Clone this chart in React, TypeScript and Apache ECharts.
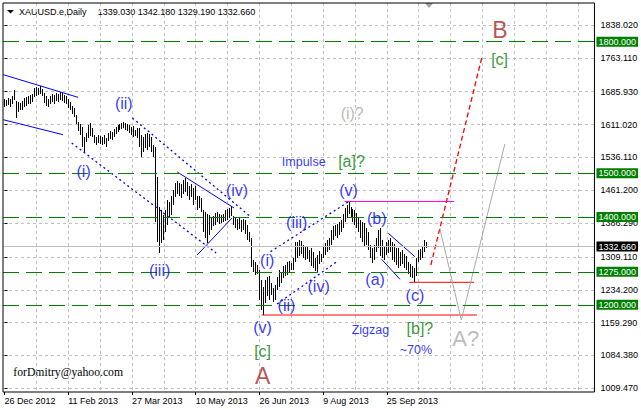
import { useEffect, useRef } from "react";
import * as echarts from "echarts";

// ---- instrument header ----
const symbolName = "XAUUSD.e,Daily";
const lastBar = { open: 1339.03, high: 1342.18, low: 1329.19, close: 1332.66 };

// ---- daily bars (bar index 0 = 26 Dec 2012) ----
const highs = [
  1669, 1667, 1672, 1669, 1676, 1690, 1665, 1662, 1660, 1665,
  1672, 1674, 1676, 1678, 1681, 1694, 1697, 1694, 1699, 1692,
  1683, 1676, 1669, 1676, 1681, 1678, 1683, 1681, 1685, 1683,
  1678, 1676, 1669, 1662, 1653, 1649, 1633, 1617, 1612, 1605,
  1583, 1592, 1610, 1614, 1603, 1587, 1583, 1587, 1585, 1583,
  1587, 1580, 1592, 1596, 1594, 1601, 1605, 1610, 1612, 1614,
  1617, 1614, 1612, 1610, 1605, 1608, 1599, 1603, 1603, 1587,
  1583, 1589, 1592, 1589, 1583, 1564, 1560, 1491, 1423, 1416,
  1405, 1416, 1439, 1434, 1448, 1462, 1478, 1482, 1478, 1475,
  1485, 1489, 1480, 1471, 1475, 1466, 1471, 1448, 1448, 1443,
  1416, 1412, 1407, 1405, 1400, 1402, 1409, 1412, 1407, 1405,
  1407, 1416, 1418, 1421, 1425, 1402, 1398, 1396, 1398, 1393,
  1396, 1393, 1382, 1366, 1352, 1302, 1297, 1291, 1279, 1256,
  1240, 1256, 1263, 1266, 1250, 1238, 1245, 1263, 1279, 1275,
  1288, 1291, 1297, 1300, 1295, 1307, 1343, 1343, 1348, 1345,
  1336, 1334, 1332, 1325, 1329, 1320, 1307, 1313, 1323, 1316,
  1334, 1341, 1348, 1352, 1370, 1380, 1382, 1384, 1389, 1393,
  1407, 1421, 1427, 1434, 1423, 1418, 1416, 1409, 1398, 1393,
  1389, 1386, 1375, 1366, 1336, 1329, 1336, 1352, 1370, 1375,
  1348, 1334, 1343, 1348, 1352, 1343, 1339, 1329, 1329, 1320,
  1325, 1316, 1311, 1297, 1293, 1288, 1284, 1307, 1325, 1327,
  1334, 1348, 1342.18,
];
const lows = [
  1651, 1653, 1656, 1651, 1658, 1667, 1626, 1640, 1644, 1644,
  1651, 1653, 1658, 1658, 1662, 1674, 1676, 1678, 1681, 1676,
  1660, 1653, 1651, 1658, 1662, 1658, 1665, 1662, 1667, 1665,
  1660, 1658, 1649, 1644, 1635, 1628, 1612, 1596, 1587, 1560,
  1548, 1571, 1580, 1585, 1583, 1569, 1564, 1569, 1567, 1564,
  1567, 1560, 1573, 1578, 1576, 1583, 1589, 1594, 1599, 1601,
  1603, 1599, 1596, 1592, 1587, 1583, 1585, 1580, 1560, 1537,
  1548, 1557, 1553, 1560, 1548, 1537, 1389, 1343, 1318, 1341,
  1348, 1366, 1382, 1398, 1405, 1427, 1446, 1453, 1448, 1443,
  1453, 1457, 1448, 1439, 1446, 1427, 1439, 1416, 1421, 1412,
  1366, 1352, 1341, 1359, 1371, 1380, 1382, 1389, 1384, 1386,
  1389, 1391, 1393, 1398, 1402, 1382, 1375, 1371, 1373, 1366,
  1371, 1361, 1348, 1343, 1286, 1275, 1268, 1270, 1211, 1188,
  1177, 1204, 1220, 1211, 1222, 1206, 1211, 1234, 1240, 1250,
  1261, 1266, 1268, 1275, 1279, 1279, 1297, 1307, 1311, 1316,
  1307, 1302, 1304, 1297, 1288, 1284, 1277, 1275, 1293, 1297,
  1307, 1313, 1320, 1325, 1336, 1348, 1357, 1352, 1359, 1366,
  1375, 1389, 1398, 1407, 1398, 1389, 1382, 1375, 1366, 1352,
  1343, 1332, 1336, 1325, 1307, 1295, 1302, 1320, 1329, 1311,
  1307, 1302, 1313, 1318, 1320, 1302, 1297, 1291, 1284, 1288,
  1293, 1284, 1279, 1270, 1263, 1261, 1252, 1266, 1297, 1302,
  1307, 1320, 1329.19,
];

// ---- axes ----
const dateTickIndex = [0, 32, 64, 96, 128, 160, 192];
const dateTickLabels = [
  "26 Dec 2012", "11 Feb 2013", "27 Mar 2013", "10 May 2013",
  "26 Jun 2013", "9 Aug 2013", "25 Sep 2013",
];
const verticalGridIndex = [16, 32, 48, 64, 80, 96, 112, 128, 144, 160, 176, 192, 208, 224, 240, 256, 272, 288];
const priceTicks = [
  1009.47, 1084.38, 1159.29, 1234.2, 1309.11, 1386.29,
  1461.2, 1536.11, 1611.02, 1685.93, 1763.11, 1838.02,
];
const priceMin = 1001.01;
const priceMax = 1888.2;
const barMin = -0.75;
const barMax = 296.25;

// ---- horizontal levels ----
const levels = [1800, 1500, 1400, 1275, 1200];

// ---- drawn lines: [bar index, price] ----
const channelTop = [[-0.6, 1724.7], [36.9, 1673.1]];
const channelBottom = [[-0.6, 1622.0], [29.4, 1587.8]];
const wedgeUpperSolid = [[86.75, 1502.8], [115.25, 1420.7]];
const wedgeLowerSolid = [[96.75, 1313.5], [114.25, 1397.8]];
const correctionUpperSolid = [[192.75, 1362.9], [206.1, 1309.6]];
const correctionLowerSolid = [[189.4, 1303.6], [198.6, 1258.0]];
const declineLowerDotted = [[33.75, 1568.9], [106.25, 1318.0]];
const declineUpperDotted = [[64.25, 1625.9], [123.75, 1400.1]];
const impulseUpperDotted = [[133.6, 1321.0], [172.75, 1435.0]];
const impulseLowerDotted = [[136.9, 1201.7], [166.9, 1298.2]];
const topOfWaveA = [[170.75, 1435.5], [225.75, 1435.5]];
const bottomOfWaveA = [[129.25, 1176.6], [237.25, 1176.6]];
const bottomOfWaveC = [[203.25, 1251.2], [235.75, 1251.2]];
const mainProjection = [[214.1, 1290.7], [239.75, 1765.0]];
const altProjection = [[218.6, 1373.9], [229.4, 1165.2], [251.25, 1566.6]];

// ---- wave labels: [text, bar index, price] ----
const blueWaveLabels = [
  ["(i)", 39.75, 1503.5], ["(ii)", 59.9, 1660.1], ["(iii)", 77.9, 1277.0],
  ["(iv)", 116.75, 1461.7], ["(v)", 129.6, 1148.1],
  ["(i)", 131.9, 1300.2], ["(ii)", 141.6, 1197.6], ["(iii)", 146.75, 1388.7],
  ["(iv)", 157.75, 1241.2], ["(v)", 172.75, 1461.7],
  ["(a)", 186.1, 1258.7], ["(b)", 186.9, 1397.1], ["(c)", 206.1, 1220.4],
];
const blueNotes = [
  ["Impulse", 150.25, 1525.5], ["Zigzag", 183.75, 1142.4], ["~70%", 206.6, 1097.9],
];
const greenLabels = [
  ["[c]", 129.6, 1092.3], ["[a]?", 174.25, 1526.2], ["[b]?", 208.6, 1146.9], ["[c]", 248.6, 1759.3],
];
const brownLabels = [["A", 129.6, 1038.6], ["B", 248.75, 1826.6]];
const grayWaveLabels = [["(i)?", 174.6, 1636.6]];
const grayLetterLabels = [["A?", 231.6, 1121.9]];

const signature = "forDmitry@yahoo.com";

const SANS = "'Liberation Sans', Arial, sans-serif";
const DOTTED = [2, 3];

function lineSeries(data: number[][], color: string, type: any, width = 1) {
  return {
    type: "line",
    data,
    symbol: "none",
    showSymbol: false,
    silent: true,
    z: 4,
    lineStyle: { color, width, type },
  };
}

function labelItems(list: any[], color: string, fontSize: number) {
  return list.map(([text, x, y]) => ({
    value: [x, y],
    label: {
      show: true,
      position: "inside",
      formatter: text,
      color,
      fontSize,
      fontFamily: SANS,
    },
  }));
}

export default function App() {
  const ref = useRef<HTMLDivElement>(null);

  useEffect(() => {
    document.body.style.margin = "0";
    const chart = echarts.init(ref.current!, null, { renderer: "svg" });

    const bars = highs.map((h, i) => [i, h, lows[i]]);

    const levelMarks: any[] = levels.map((v) => ({
      yAxis: v,
      lineStyle: { color: "#008000", type: [16, 7], width: 1 },
      label: { backgroundColor: "#008000" },
    }));
    levelMarks.push({
      yAxis: lastBar.close,
      lineStyle: { color: "#c0c0c0", type: "solid", width: 1 },
      label: { backgroundColor: "#000000" },
    });

    const option: any = {
      animation: false,
      backgroundColor: "#ffffff",
      grid: {
        left: 3,
        top: 3,
        right: 44,
        bottom: 17,
        show: true,
        borderColor: "#000000",
        borderWidth: 1,
        backgroundColor: "transparent",
        z: 10,
      },
      xAxis: [
        {
          type: "value",
          min: barMin,
          max: barMax,
          axisLine: { show: false },
          axisTick: {
            show: true,
            customValues: dateTickIndex,
            length: 3,
            lineStyle: { color: "#000000" },
          },
          axisLabel: {
            customValues: dateTickIndex,
            formatter: (v: number) => dateTickLabels[dateTickIndex.indexOf(Math.round(v))] ?? "",
            align: "left",
            margin: 4,
            color: "#000000",
            fontSize: 9,
            fontFamily: SANS,
          },
          splitLine: { show: false },
        },
        {
          type: "value",
          min: barMin,
          max: barMax,
          position: "bottom",
          axisLine: { show: false },
          axisTick: { show: false, customValues: verticalGridIndex },
          axisLabel: { show: false },
          splitLine: { show: true, lineStyle: { color: "#c0c0c0", type: [3, 3], width: 1 } },
        },
      ],
      yAxis: {
        type: "value",
        position: "right",
        min: priceMin,
        max: priceMax,
        axisLine: { show: false },
        axisTick: {
          show: true,
          customValues: priceTicks,
          length: 3,
          lineStyle: { color: "#000000" },
        },
        axisLabel: {
          customValues: priceTicks,
          formatter: (v: number) => v.toFixed(3),
          margin: 6,
          color: "#000000",
          fontSize: 9,
          fontFamily: SANS,
        },
        splitLine: { show: true, lineStyle: { color: "#c0c0c0", type: [3, 3], width: 1 } },
      },
      graphic: [
        { type: "polygon", shape: { points: [[7, 10], [14, 10], [10.5, 13.5]] }, style: { fill: "#000000" } },
        {
          type: "text",
          x: 19,
          y: 11.5,
          style: { text: symbolName, fill: "#000000", font: `9px ${SANS}`, verticalAlign: "middle" },
        },
        {
          type: "text",
          x: 97.7,
          y: 11.5,
          style: {
            text: [lastBar.open, lastBar.high, lastBar.low, lastBar.close].map((v) => v.toFixed(3)).join(" "),
            fill: "#000000",
            font: `9px ${SANS}`,
            verticalAlign: "middle",
          },
        },
        { type: "polygon", shape: { points: [[425, 3], [433, 3], [429, 8]] }, style: { fill: "#a0a0a0" } },
        {
          type: "text",
          x: 13.3,
          y: 372.7,
          style: {
            text: signature,
            fill: "#000000",
            font: "11.7px 'Liberation Serif', 'Times New Roman', serif",
            verticalAlign: "middle",
          },
        },
      ],
      series: [
        {
          type: "scatter",
          data: [],
          silent: true,
          z: 1,
          markLine: {
            silent: true,
            symbol: "none",
            animation: false,
            label: {
              show: true,
              position: "end",
              distance: 2,
              formatter: (p: any) => Number(p.value).toFixed(3),
              color: "#ffffff",
              fontSize: 9,
              fontFamily: SANS,
              padding: [1, 2, 0, 2],
              lineHeight: 9,
            },
            data: levelMarks,
          },
        },
        {
          type: "custom",
          data: bars,
          silent: true,
          z: 3,
          encode: { x: 0, y: [1, 2] },
          renderItem: (_params: any, api: any) => {
            const i = api.value(0);
            const top = api.coord([i, api.value(1)]);
            const bottom = api.coord([i, api.value(2)]);
            const px = Math.round(top[0] - 0.5) + 0.5;
            return {
              type: "line",
              shape: { x1: px, y1: Math.round(top[1]), x2: px, y2: Math.round(bottom[1]) },
              style: { stroke: "#000000", lineWidth: 1 },
            };
          },
        },
        lineSeries(channelTop, "#0000ff", "solid"),
        lineSeries(channelBottom, "#0000ff", "solid"),
        lineSeries(wedgeUpperSolid, "#0000ff", "solid"),
        lineSeries(wedgeLowerSolid, "#0000ff", "solid"),
        lineSeries(correctionUpperSolid, "#0000ff", "solid"),
        lineSeries(correctionLowerSolid, "#0000ff", "solid"),
        lineSeries(declineLowerDotted, "#0000ff", DOTTED, 1.3),
        lineSeries(declineUpperDotted, "#0000ff", DOTTED, 1.3),
        lineSeries(impulseUpperDotted, "#0000ff", DOTTED, 1.3),
        lineSeries(impulseLowerDotted, "#0000ff", DOTTED, 1.3),
        lineSeries(topOfWaveA, "#ff00ff", "solid"),
        lineSeries(bottomOfWaveA, "#ff0000", "solid"),
        lineSeries(bottomOfWaveC, "#ff0000", "solid"),
        lineSeries(mainProjection, "#ff0000", [5, 3], 1.3),
        lineSeries(altProjection, "#a9a9a9", "solid"),
        {
          type: "scatter",
          symbol: "circle",
          symbolSize: 1,
          silent: true,
          z: 6,
          itemStyle: { color: "rgba(0,0,0,0)" },
          data: [
            ...labelItems(blueWaveLabels, "#0000ff", 16),
            ...labelItems(blueNotes, "#0000ff", 12.5),
            ...labelItems(greenLabels, "#008000", 16),
            ...labelItems(brownLabels, "#a52a2a", 23),
            ...labelItems(grayWaveLabels, "#a9a9a9", 16),
            ...labelItems(grayLetterLabels, "#a9a9a9", 22),
          ],
        },
      ],
    };

    chart.setOption(option);
    return () => chart.dispose();
  }, []);

  return <div ref={ref} style={{ width: 641, height: 409 }} />;
}
